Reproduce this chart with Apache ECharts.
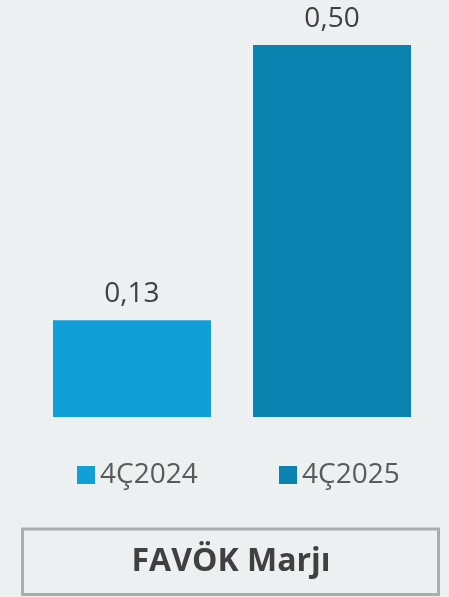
<!DOCTYPE html>
<html>
<head>
<meta charset="utf-8">
<script src="https://cdn.jsdelivr.net/npm/echarts@6/dist/echarts.min.js"></script>
<style>
html,body{margin:0;padding:0;background:#ecf0f1;}
#c{width:449px;height:597px;}
</style>
</head>
<body>
<div id="c"></div>
<script>
const categories = ['FAVÖK Marjı'];
const seriesNames = ['4Ç2024', '4Ç2025'];
const values2024 = [0.13];
const values2025 = [0.50];
const colors = ['#109fd7', '#0a83b1'];

const fmt = p => p.value.toFixed(2).replace('.', ',');
const chart = echarts.init(document.getElementById('c'), null, {renderer: 'canvas'});
const labelStyle = {show: true, position: 'top', distance: 12, formatter: fmt,
  fontFamily: 'Open Sans', fontSize: 28, color: '#404040'};
chart.setOption({
  backgroundColor: '#ecf0f1',
  animation: false,
  grid: {left: 53, right: 38, top: 45, bottom: 180},
  xAxis: {type: 'category', data: categories, show: false},
  yAxis: {type: 'value', min: 0, max: 0.5, show: false},
  legend: [
    {data: [seriesNames[0]], left: 77, top: 461, padding: 0, icon: 'rect', itemWidth: 18, itemHeight: 18,
     textStyle: {fontFamily: 'Open Sans', fontSize: 28, color: '#595959', lineHeight: 28}},
    {data: [seriesNames[1]], left: 279, top: 461, padding: 0, icon: 'rect', itemWidth: 18, itemHeight: 18,
     textStyle: {fontFamily: 'Open Sans', fontSize: 28, color: '#595959', lineHeight: 28}}
  ],
  series: [
    {name: seriesNames[0], type: 'bar', data: values2024, barWidth: 158, barGap: '26.6%', barCategoryGap: 0,
     itemStyle: {color: colors[0]}, label: labelStyle},
    {name: seriesNames[1], type: 'bar', data: values2025, barWidth: 158,
     itemStyle: {color: colors[1]}, label: labelStyle}
  ],
  graphic: [
    {type: 'rect', shape: {x: 22.5, y: 529, width: 416, height: 65.5},
     style: {fill: 'none', stroke: '#a9adad', lineWidth: 3}},
    {type: 'text', x: 231, y: 562,
     style: {text: categories[0], fontFamily: 'Open Sans', fontWeight: 'bold', fontSize: 32,
       fill: '#404040', align: 'center', verticalAlign: 'middle'}}
  ]
});
</script>
</body>
</html>
